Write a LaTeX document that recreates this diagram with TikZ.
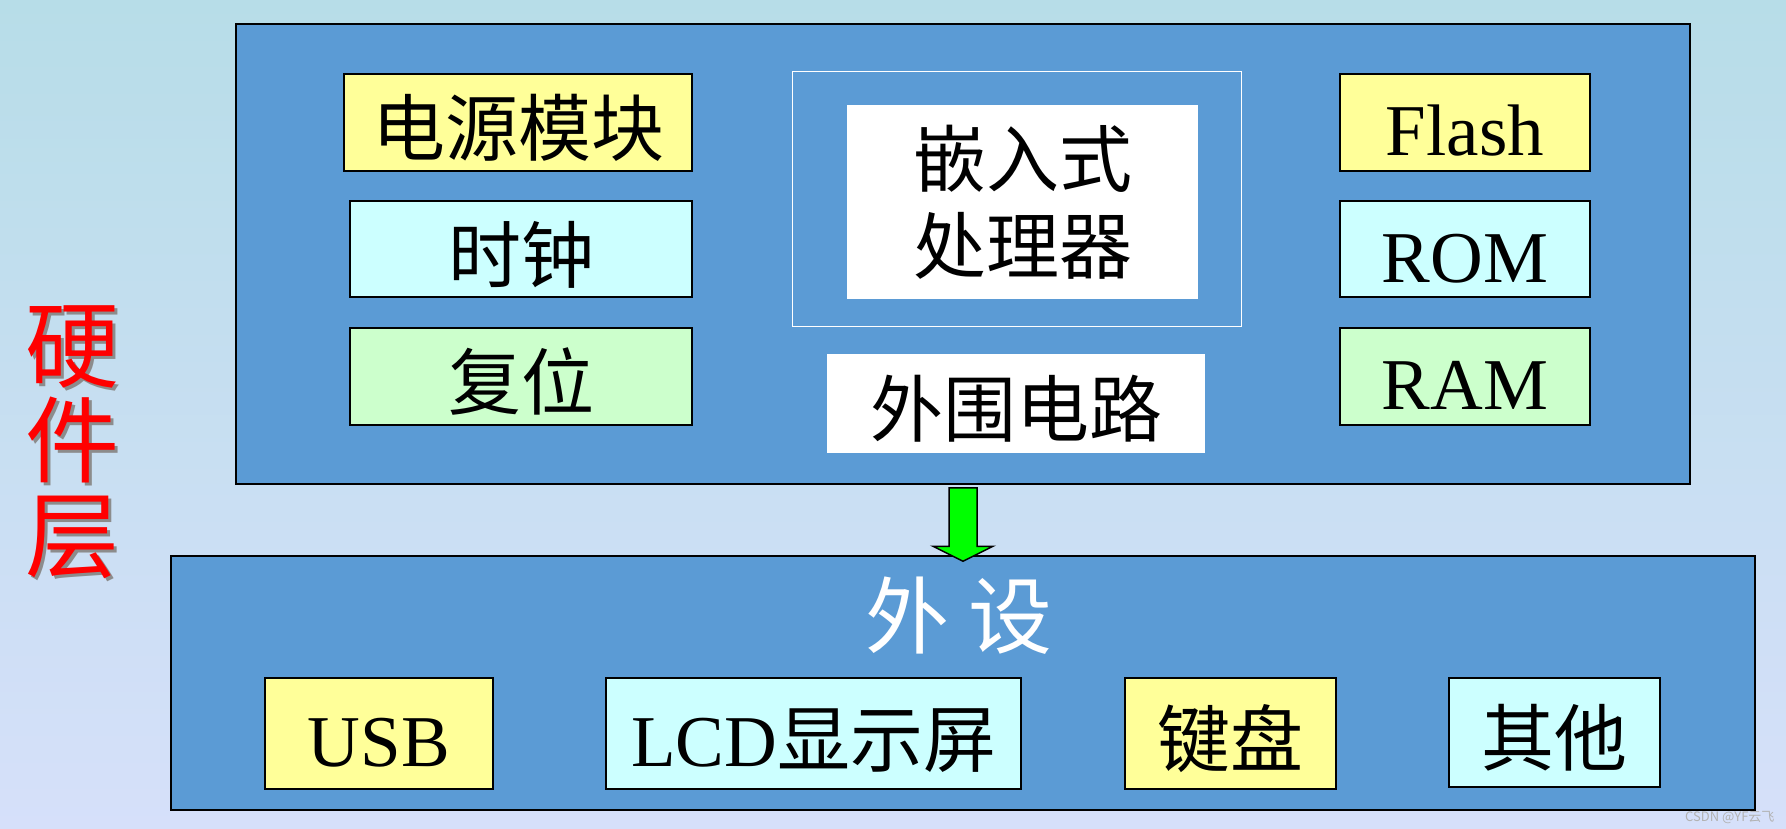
\documentclass[tikz,border=0pt]{standalone}
\usepackage{fontspec}
\setmainfont{Liberation Serif}
\newfontfamily\cjk{Noto Sans CJK SC}
\usetikzlibrary{calc}
\definecolor{bgTop}{RGB}{183,221,232}
\definecolor{bgBottom}{RGB}{214,224,250}
\definecolor{boxBlue}{RGB}{91,155,213}
\definecolor{cellYellow}{RGB}{255,255,153}
\definecolor{cellCyan}{RGB}{204,255,255}
\definecolor{cellGreen}{RGB}{204,255,204}
\definecolor{arrowGreen}{RGB}{0,255,0}

\begin{document}
\begin{tikzpicture}[x=1pt, y=-1pt,
  layer/.style={draw=black, line width=1.5pt, fill=boxBlue, inner sep=0pt},
  cell/.style={draw=black, line width=1.5pt, inner sep=0pt, text height=66pt, text depth=0pt, font=\fontsize{73}{80}\selectfont},
  cjkcell/.style={cell, font=\fontsize{73}{80}\cjk},
  whitecell/.style={fill=white, inner sep=0pt, font=\fontsize{73}{87}\cjk, align=center},
  greenarrow/.style={draw=black, line width=1.5pt, fill=arrowGreen, line join=miter}]
\useasboundingbox (0,0) rectangle (1786,829);
\shade[top color=bgTop, bottom color=bgBottom] (0,0) rectangle (1786,829);

% side label
\node[text=black!45, font=\fontsize{94}{95}\cjk, align=center] (sideshadow) at (75,445) {硬\\件\\层};
\node[text=red, font=\fontsize{94}{95}\cjk, align=center] (side) at (72,442) {硬\\件\\层};

% hardware board
\node[layer, minimum width=1454, minimum height=460] (hw) at (963,254) {};
\node[cjkcell, fill=cellYellow, minimum width=348, minimum height=97] (power) at (518,122.5) {电源模块};
\node[cjkcell, fill=cellCyan, minimum width=342, minimum height=96] (clock) at (521,249) {时钟};
\node[cjkcell, fill=cellGreen, minimum width=342, minimum height=97] (reset) at (521,376.5) {复位};
\node[draw=white, line width=1pt, minimum width=449, minimum height=254, inner sep=0pt] (cpuframe) at (1016.5,199) {};
\node[whitecell, minimum width=351, minimum height=194] (cpu) at (1022.5,202) {嵌入式\\处理器};
\node[whitecell, text height=66pt, text depth=0pt, minimum width=378, minimum height=99] (periph) at (1016,403.5) {外围电路};
\node[cell, fill=cellYellow, minimum width=250, minimum height=97] (flash) at (1465,122.5) {Flash};
\node[cell, fill=cellCyan, minimum width=250, minimum height=96] (rom) at (1465,249) {ROM};
\node[cell, fill=cellGreen, minimum width=250, minimum height=97] (ram) at (1465,376.5) {RAM};

% peripherals
\node[layer, minimum width=1584, minimum height=254] (pd) at (963,683) {};
\node[text=white, font=\fontsize{84}{90}\cjk] (pdtitle) at (959,616) {外 设};
\node[cell, fill=cellYellow, minimum width=228, minimum height=111] (usb) at (379,733.5) {USB};
\node[cell, fill=cellCyan, minimum width=415, minimum height=111] (lcd) at (813.5,733.5) {LCD{\cjk 显示屏}};
\node[cjkcell, fill=cellYellow, minimum width=211, minimum height=111] (keys) at (1230.5,733.5) {键盘};
\node[cjkcell, fill=cellCyan, minimum width=211, minimum height=109] (other) at (1554.5,732.5) {其他};

\draw[greenarrow] ([shift={(-14,3)}]hw.south) -- ([shift={(14,3)}]hw.south)
  -- ([shift={(14,-9)}]pd.north) -- ([shift={(30,-9)}]pd.north)
  -- ([shift={(0,6)}]pd.north) -- ([shift={(-30,-9)}]pd.north)
  -- ([shift={(-14,-9)}]pd.north) -- cycle;

\node[text=black!30, font=\fontsize{13}{13}\cjk, anchor=east] (mark) at (1778,818) {CSDN @YF云飞};
\end{tikzpicture}
\end{document}
